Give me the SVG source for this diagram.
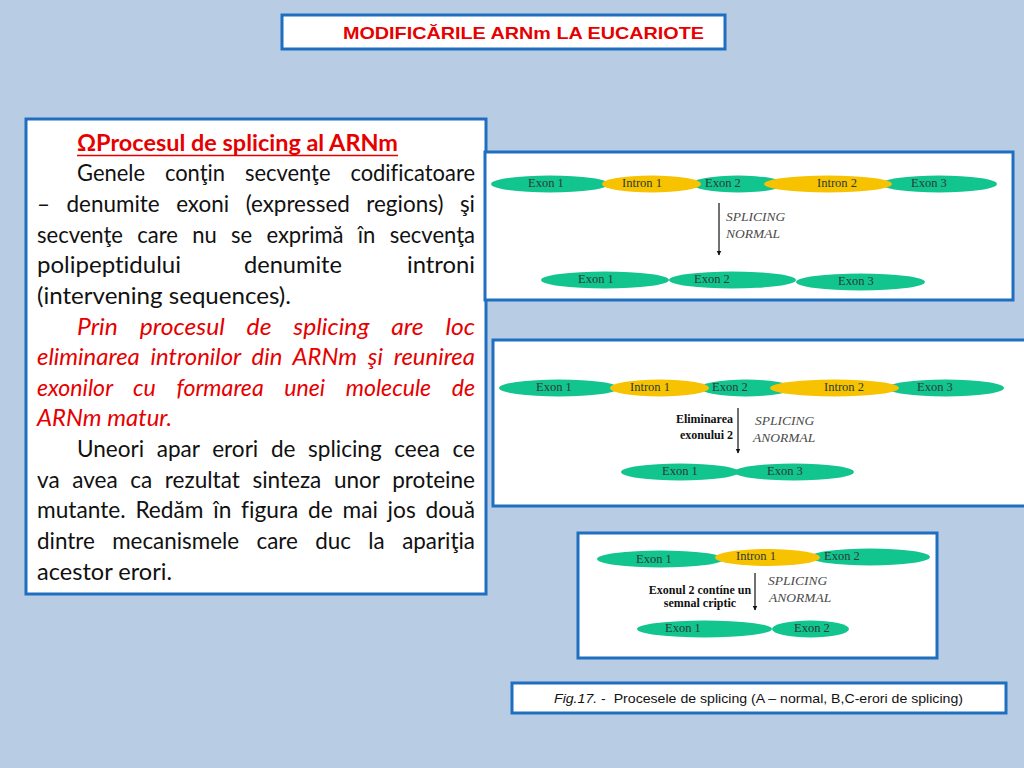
<svg xmlns="http://www.w3.org/2000/svg" width="1024" height="768" viewBox="0 0 1024 768">
<style>
.box{fill:#ffffff;stroke:#1f6fc1;stroke-width:3}
.ex{fill:#12c48e}
.in{fill:#f7c300}
.lbl{font-family:"Liberation Serif",serif;font-size:12.5px;fill:#2a3a33;text-anchor:middle;dominant-baseline:central}
.it{font-family:"Liberation Serif",serif;font-style:italic;font-size:13.5px;fill:#4a4a4a}
.bd{font-family:"Liberation Serif",serif;font-weight:bold;font-size:12px;fill:#111}
.body{font-family:Lato,"Liberation Sans",sans-serif;font-size:23px;fill:#111;font-variant-ligatures:none}
.red{fill:#e60000;font-style:italic}
.arr{stroke:#111;stroke-width:1.2;fill:none}
</style>
<defs>
<marker id="ah" viewBox="0 0 10 10" refX="9" refY="5" markerWidth="5" markerHeight="6" orient="auto" markerUnits="userSpaceOnUse">
<path d="M0,0 L10,5 L0,10 z" fill="#111"/>
</marker>
</defs>
<rect x="0" y="0" width="1024" height="768" fill="#b8cde4"/>

<g id="title">
<rect class="box" x="282" y="15" width="443" height="34"/>
<text x="343" y="39" textLength="361" lengthAdjust="spacingAndGlyphs" font-family="Liberation Sans,Arial,sans-serif" font-weight="bold" font-size="16.5" fill="#e60000">MODIFICĂRILE ARNm LA EUCARIOTE</text>
</g>

<g id="textbox">
<rect class="box" x="26" y="119" width="460" height="475"/>
<text class="body" x="77" y="151" font-weight="bold" style="fill:#e60000" textLength="321" lengthAdjust="spacingAndGlyphs">ΩProcesul de splicing al ARNm</text>
<line x1="77" y1="155.5" x2="398" y2="155.5" stroke="#e60000" stroke-width="1.6"/>
<text class="body" x="77" y="181" word-spacing="15" textLength="398" lengthAdjust="spacingAndGlyphs">Genele conţin secvenţe codificatoare</text>
<text class="body" x="37" y="212" word-spacing="11" textLength="438" lengthAdjust="spacingAndGlyphs">– denumite exoni (expressed regions) şi</text>
<text class="body" x="37" y="243" word-spacing="9" textLength="438" lengthAdjust="spacingAndGlyphs">secvenţe care nu se exprimă în secvenţa</text>
<text class="body" x="37" y="273" textLength="144" lengthAdjust="spacingAndGlyphs">polipeptidului</text>
<text class="body" x="244" y="273" textLength="98" lengthAdjust="spacingAndGlyphs">denumite</text>
<text class="body" x="407" y="273" textLength="68" lengthAdjust="spacingAndGlyphs">introni</text>
<text class="body" x="37" y="304" textLength="254" lengthAdjust="spacingAndGlyphs">(intervening sequences).</text>
<text class="body red" x="77" y="335" word-spacing="15" textLength="398" lengthAdjust="spacingAndGlyphs">Prin procesul de splicing are loc</text>
<text class="body red" x="37" y="365" word-spacing="5" textLength="438" lengthAdjust="spacingAndGlyphs">eliminarea intronilor din ARNm şi reunirea</text>
<text class="body red" x="37" y="396" word-spacing="15" textLength="438" lengthAdjust="spacingAndGlyphs">exonilor cu formarea unei molecule de</text>
<text class="body red" x="37" y="426" textLength="135" lengthAdjust="spacingAndGlyphs">ARNm matur.</text>
<text class="body" x="77" y="457" word-spacing="7" textLength="398" lengthAdjust="spacingAndGlyphs">Uneori apar erori de splicing ceea ce</text>
<text class="body" x="37" y="488" word-spacing="7" textLength="438" lengthAdjust="spacingAndGlyphs">va avea ca rezultat sinteza unor proteine</text>
<text class="body" x="37" y="518" word-spacing="4" textLength="438" lengthAdjust="spacingAndGlyphs">mutante. Redăm în figura de mai jos două</text>
<text class="body" x="37" y="549" word-spacing="12" textLength="438" lengthAdjust="spacingAndGlyphs">dintre mecanismele care duc la apariţia</text>
<text class="body" x="37" y="580" textLength="135" lengthAdjust="spacingAndGlyphs">acestor erori.</text>
</g>

<g id="panelA">
<rect class="box" x="485" y="152" width="528" height="148"/>
<ellipse class="ex" cx="550" cy="184" rx="59" ry="8.5"/>
<ellipse class="ex" cx="738" cy="184" rx="46" ry="8.5"/>
<ellipse class="ex" cx="939" cy="184" rx="58" ry="8.5"/>
<ellipse class="in" cx="651.5" cy="184" rx="49.5" ry="8.5"/>
<ellipse class="in" cx="828" cy="184" rx="64" ry="8.5"/>
<text class="lbl" x="546" y="183">Exon 1</text>
<text class="lbl" x="642" y="183">Intron 1</text>
<text class="lbl" x="723" y="183">Exon 2</text>
<text class="lbl" x="837" y="183">Intron 2</text>
<text class="lbl" x="929" y="183">Exon 3</text>
<text class="it" x="726" y="221">SPLICING</text>
<text class="it" x="726" y="238">NORMAL</text>
<ellipse class="ex" cx="605" cy="280" rx="64" ry="8.5"/>
<ellipse class="ex" cx="732.5" cy="280" rx="63.5" ry="8.5"/>
<ellipse class="ex" cx="860.5" cy="282" rx="64.5" ry="8.5"/>
<text class="lbl" x="596" y="279">Exon 1</text>
<text class="lbl" x="712" y="279">Exon 2</text>
<text class="lbl" x="856" y="281">Exon 3</text>
</g>

<g id="panelB">
<rect class="box" x="493" y="340" width="540" height="166"/>
<ellipse class="ex" cx="559" cy="388" rx="60" ry="8.5"/>
<ellipse class="ex" cx="746" cy="388" rx="46" ry="8.5"/>
<ellipse class="ex" cx="945.5" cy="388" rx="58.5" ry="8.5"/>
<ellipse class="in" cx="659.5" cy="388" rx="49.5" ry="8.5"/>
<ellipse class="in" cx="834.5" cy="388" rx="64.5" ry="8.5"/>
<text class="lbl" x="554" y="387">Exon 1</text>
<text class="lbl" x="650" y="387">Intron 1</text>
<text class="lbl" x="730" y="387">Exon 2</text>
<text class="lbl" x="844" y="387">Intron 2</text>
<text class="lbl" x="935" y="387">Exon 3</text>
<text class="bd" x="733" y="423" text-anchor="end">Eliminarea</text>
<text class="bd" x="733" y="439" text-anchor="end">exonului 2</text>
<text class="it" x="755" y="425">SPLICING</text>
<text class="it" x="753" y="442">ANORMAL</text>
<ellipse class="ex" cx="680" cy="472" rx="59" ry="8.5"/>
<ellipse class="ex" cx="794" cy="472" rx="60" ry="8.5"/>
<text class="lbl" x="680" y="471">Exon 1</text>
<text class="lbl" x="785" y="471">Exon 3</text>
</g>

<g id="panelC">
<rect class="box" x="578" y="533" width="359" height="125"/>
<ellipse class="ex" cx="660.5" cy="559" rx="63.5" ry="8.5"/>
<ellipse class="ex" cx="870" cy="557" rx="60" ry="8.5"/>
<ellipse class="in" cx="767.5" cy="557.5" rx="52.5" ry="8.5"/>
<text class="lbl" x="654" y="559">Exon 1</text>
<text class="lbl" x="756" y="556">Intron 1</text>
<text class="lbl" x="842" y="556">Exon 2</text>
<text class="bd" x="700" y="594" text-anchor="middle">Exonul 2 contíne un</text>
<text class="bd" x="700" y="607" text-anchor="middle">semnal criptic</text>
<text class="it" x="768" y="585">SPLICING</text>
<text class="it" x="769" y="602">ANORMAL</text>
<ellipse class="ex" cx="704.5" cy="629" rx="67.5" ry="8.5"/>
<ellipse class="ex" cx="810.5" cy="629" rx="38.5" ry="8.5"/>
<text class="lbl" x="683" y="628">Exon 1</text>
<text class="lbl" x="812" y="628">Exon 2</text>
</g>

<g id="caption">
<rect class="box" x="512" y="683" width="494" height="30"/>
<text x="554" y="703" xml:space="preserve" textLength="409" lengthAdjust="spacingAndGlyphs" font-family="Liberation Sans,Arial,sans-serif" font-size="13.5" fill="#111"><tspan font-style="italic">Fig.17.</tspan> -  Procesele de splicing (A – normal, B,C-erori de splicing)</text>
</g>

<g id="connectors">
<line class="arr" x1="719" y1="203" x2="719" y2="255" marker-end="url(#ah)"/>
<line class="arr" x1="738" y1="408" x2="738" y2="453" marker-end="url(#ah)"/>
<line class="arr" x1="755" y1="573" x2="755" y2="610" marker-end="url(#ah)"/>
</g>
</svg>
